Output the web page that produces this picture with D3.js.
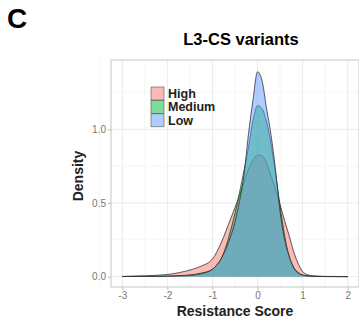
<!DOCTYPE html>
<html>
<head>
<meta charset="utf-8">
<script src="https://cdn.jsdelivr.net/npm/d3@7"></script>
<style>
  body { margin: 0; background: #fff; }
  text { font-family: "Liberation Sans", Arial, sans-serif; }
</style>
</head>
<body>
<script>
// resistance score grid and density
var scores = [-3, -2.5, -2, -1.75, -1.5, -1.25, -1, -0.9, -0.8, -0.7, -0.6, -0.5, -0.4, -0.3, -0.2, -0.1,
              0, 0.1, 0.2, 0.3, 0.4, 0.5, 0.6, 0.7, 0.8, 0.9, 1.0, 1.1, 1.25, 1.5, 2];
var highDens = [0.002, 0.006, 0.015, 0.027, 0.045, 0.072, 0.12, 0.17, 0.235, 0.31, 0.39, 0.47, 0.55, 0.64, 0.73, 0.79,
                0.825, 0.82, 0.77, 0.68, 0.59, 0.49, 0.38, 0.28, 0.17, 0.09, 0.035, 0.014, 0.005, 0.002, 0.001];
var mediumDens = [0.001, 0.002, 0.004, 0.007, 0.012, 0.024, 0.05, 0.08, 0.125, 0.205, 0.31, 0.43, 0.57, 0.72, 0.88, 1.06,
                  1.16, 1.14, 1.05, 0.90, 0.70, 0.48, 0.28, 0.14, 0.065, 0.028, 0.012, 0.006, 0.003, 0.001, 0];
var lowDens = [0.001, 0.002, 0.003, 0.005, 0.009, 0.02, 0.05, 0.08, 0.125, 0.19, 0.27, 0.37, 0.51, 0.69, 0.97, 1.20,
               1.39, 1.33, 1.14, 0.96, 0.72, 0.44, 0.25, 0.14, 0.06, 0.025, 0.01, 0.005, 0.002, 0.001, 0];
var groups = ["High", "Medium", "Low"];
var colors = ["#F8766D", "#00BA38", "#619CFF"];
var xTicks = [-3, -2, -1, 0, 1, 2];
var yTicks = [0, 0.5, 1.0];

var width = 359, height = 322;
var pLeft = 111, pRight = 359, pTop = 60, pBottom = 287;

var svg = d3.select("body").append("svg").attr("width", width).attr("height", height);

var x = d3.scaleLinear().domain([-3.25, 2.25]).range([pLeft, pRight]);
var y = d3.scaleLinear().domain([-0.07, 1.47]).range([pBottom, pTop]);

// panel letter + title
svg.append("text").text("C")
    .attr("x", 7).attr("y", 28)
    .attr("font-size", 28).attr("font-weight", "bold");
svg.append("text").text("L3-CS variants")
    .attr("x", 241).attr("y", 45)
    .attr("text-anchor", "middle")
    .attr("font-size", 16.5).attr("font-weight", "bold");

// grid
var minorX = d3.range(-3.5, 2.6, 1);
var minorY = [0.25, 0.75, 1.25];
svg.selectAll(".gxm").data(minorX).enter().append("line")
    .attr("x1", d => x(d)).attr("x2", d => x(d)).attr("y1", pTop).attr("y2", pBottom)
    .attr("stroke", "#f4f4f4").attr("stroke-width", 0.8);
svg.selectAll(".gym").data(minorY).enter().append("line")
    .attr("x1", pLeft).attr("x2", pRight).attr("y1", d => y(d)).attr("y2", d => y(d))
    .attr("stroke", "#f4f4f4").attr("stroke-width", 0.8);
svg.selectAll(".gx").data(xTicks).enter().append("line")
    .attr("x1", d => x(d)).attr("x2", d => x(d)).attr("y1", pTop).attr("y2", pBottom)
    .attr("stroke", "#ebebeb").attr("stroke-width", 1);
svg.selectAll(".gy").data(yTicks).enter().append("line")
    .attr("x1", pLeft).attr("x2", pRight).attr("y1", d => y(d)).attr("y2", d => y(d))
    .attr("stroke", "#ebebeb").attr("stroke-width", 1);

// densities, drawn High -> Medium -> Low like ggplot
var series = [highDens, mediumDens, lowDens];
var area = d3.area()
    .x(d => x(d[0]))
    .y0(y(0))
    .y1(d => y(d[1]))
    .curve(d3.curveMonotoneX);
var line = d3.line()
    .x(d => x(d[0]))
    .y(d => y(d[1]))
    .curve(d3.curveMonotoneX);

series.forEach(function (s, i) {
    var pts = scores.map((v, j) => [v, s[j]]);
    svg.append("path").datum(pts)
        .attr("d", area)
        .attr("fill", colors[i]).attr("fill-opacity", 0.5);
    svg.append("path").datum(pts)
        .attr("d", line)
        .attr("fill", "none").attr("stroke", "#333").attr("stroke-width", 0.8);
});

// panel border
svg.append("rect")
    .attr("x", pLeft).attr("y", pTop).attr("width", pRight - pLeft).attr("height", pBottom - pTop)
    .attr("fill", "none").attr("stroke", "#cfcfcf").attr("stroke-width", 1.2);

// axes
var xAxis = svg.append("g").attr("transform", "translate(0," + pBottom + ")")
    .call(d3.axisBottom(x).tickValues(xTicks).tickFormat(d => String(d)).tickSize(3).tickPadding(2));
var yAxis = svg.append("g").attr("transform", "translate(" + pLeft + ",0)")
    .call(d3.axisLeft(y).tickValues(yTicks).tickFormat(d3.format(".1f")).tickSize(3).tickPadding(2));
[xAxis, yAxis].forEach(function (g) {
    g.select(".domain").remove();
    g.selectAll("line").attr("stroke", "#bbb");
    g.selectAll("text").attr("fill", "#777").attr("font-size", 10)
        .attr("font-family", "'Liberation Sans', Arial, sans-serif");
});

// axis titles
svg.append("text").text("Resistance Score")
    .attr("x", 235).attr("y", 316)
    .attr("text-anchor", "middle")
    .attr("font-size", 14).attr("font-weight", "bold").attr("fill", "#222");
svg.append("text").text("Density")
    .attr("transform", "translate(83,176) rotate(-90)")
    .attr("text-anchor", "middle")
    .attr("font-size", 14).attr("font-weight", "bold").attr("fill", "#222");

// legend
var legend = svg.append("g").attr("transform", "translate(151,87)");
legend.selectAll("rect").data(groups).enter().append("rect")
    .attr("x", 0).attr("y", (d, i) => i * 13.4)
    .attr("width", 13).attr("height", 13)
    .attr("fill", (d, i) => colors[i]).attr("fill-opacity", 0.5)
    .attr("stroke", "#555").attr("stroke-width", 0.6);
legend.selectAll("text").data(groups).enter().append("text")
    .text(d => d)
    .attr("x", 17).attr("y", (d, i) => i * 13.4 + 11)
    .attr("font-size", 12.5).attr("font-weight", "bold").attr("fill", "#222");
</script>
</body>
</html>
